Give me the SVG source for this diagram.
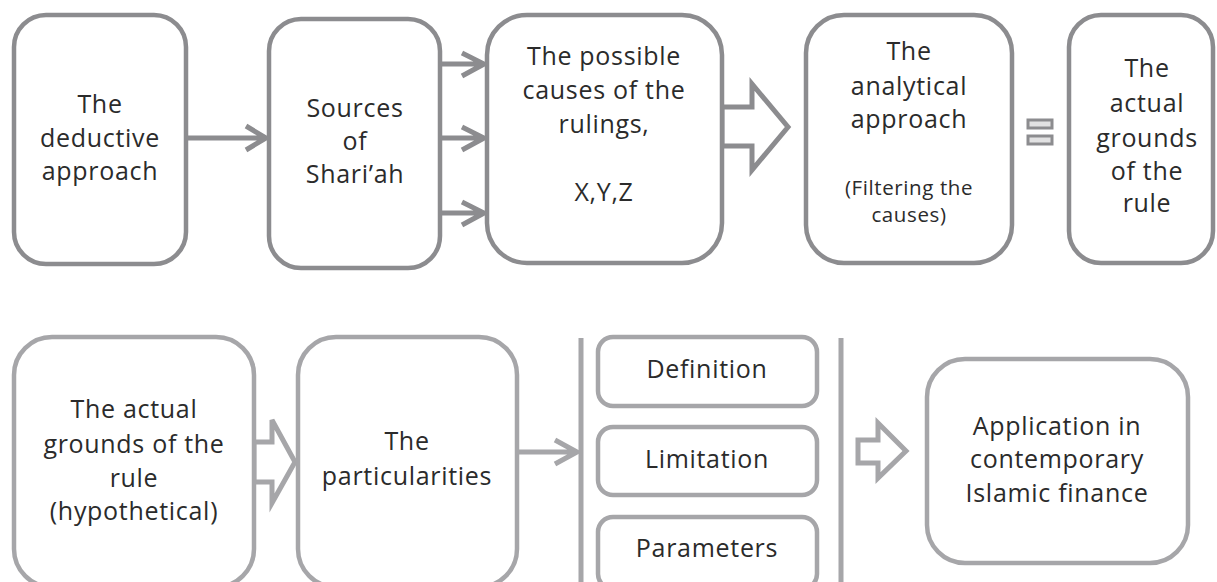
<svg xmlns="http://www.w3.org/2000/svg" width="1217" height="582" viewBox="0 0 1217 582">
<style>
.box{fill:#fff;stroke:#8c8c8f;stroke-width:4.5}
.boxl{fill:#fff;stroke:#a6a6a9;stroke-width:4.5}
.t{font-family:"Open Sans","Liberation Sans",sans-serif;font-size:25px;letter-spacing:0.7px;fill:#2b2b2b;text-anchor:middle}
.s{font-size:20.5px;letter-spacing:0.6px}
.ln{fill:none;stroke:#8c8c8f;stroke-width:5}
.lnl{fill:none;stroke:#a6a6a9;stroke-width:5}
.blk{fill:#fff;stroke:#8c8c8f;stroke-width:5;stroke-linejoin:miter}
.blkl{fill:#fff;stroke:#a6a6a9;stroke-width:5;stroke-linejoin:miter}
</style>
<rect width="1217" height="582" fill="#fff"/>
<g id="connectors">
<path class="ln" d="M186,138 H265 M246,126 L266,138 L246,150"/>
<path class="ln" d="M440,64 H484 M462,53 L484,64 L462,76"/>
<path class="ln" d="M440,138 H484 M462,127 L484,138 L462,150"/>
<path class="ln" d="M440,213 H484 M462,202 L484,213 L462,225"/>
<polygon class="blk" points="722,107 752,107 752,84 788,127 752,170 752,146 722,146"/>
<polygon class="blkl" points="254,442 272,442 272,420 295,462 272,503 272,482 254,482"/>
<path class="lnl" d="M517,452 H577 M555,440 L577,452 L555,464"/>
<polygon class="blkl" points="858,440 878,440 878,423 906,451 878,478 878,463 858,463"/>
<path class="lnl" d="M581,338 V582 M841,338 V582"/>
</g>
<g id="equals">
<rect x="1028" y="120" width="24" height="8" fill="#e2e2e3" stroke="#8c8c8f" stroke-width="3"/>
<rect x="1028" y="136" width="24" height="8" fill="#e2e2e3" stroke="#8c8c8f" stroke-width="3"/>
</g>
<g id="n1"><rect class="box" x="14" y="15" width="172" height="249" rx="32"/>
<text class="t" x="100" y="113">The</text><text class="t" x="100" y="147">deductive</text><text class="t" x="100" y="180">approach</text></g>
<g id="n2"><rect class="box" x="269" y="19" width="171" height="249" rx="32"/>
<text class="t" x="355" y="117">Sources</text><text class="t" x="355" y="150">of</text><text class="t" x="355" y="183">Shari’ah</text></g>
<g id="n3"><rect class="box" x="487" y="15" width="235" height="248" rx="40"/>
<text class="t" x="604" y="65">The possible</text><text class="t" x="604" y="99">causes of the</text><text class="t" x="604" y="133">rulings,</text><text class="t" x="604" y="201">X,Y,Z</text></g>
<g id="n4"><rect class="box" x="806" y="15" width="206" height="248" rx="38"/>
<text class="t" x="909" y="60">The</text><text class="t" x="909" y="95">analytical</text><text class="t" x="909" y="128">approach</text>
<text class="t s" x="909" y="195">(Filtering the</text><text class="t s" x="909" y="222">causes)</text></g>
<g id="n5"><rect class="box" x="1069" y="15" width="144" height="248" rx="32"/>
<text class="t" x="1147" y="77">The</text><text class="t" x="1147" y="112">actual</text><text class="t" x="1147" y="147">grounds</text><text class="t" x="1147" y="180">of the</text><text class="t" x="1147" y="212">rule</text></g>
<g id="n6"><rect class="boxl" x="14" y="337" width="240" height="250" rx="38"/>
<text class="t" x="134" y="418">The actual</text><text class="t" x="134" y="453">grounds of the</text><text class="t" x="134" y="487">rule</text><text class="t" x="134" y="520">(hypothetical)</text></g>
<g id="n7"><rect class="boxl" x="298" y="337" width="219" height="250" rx="38"/>
<text class="t" x="407" y="450">The</text><text class="t" x="407" y="485">particularities</text></g>
<g id="n8"><rect class="boxl" x="598" y="337" width="219" height="69" rx="15"/>
<text class="t" x="707" y="378">Definition</text></g>
<g id="n9"><rect class="boxl" x="598" y="427" width="219" height="68" rx="15"/>
<text class="t" x="707" y="468">Limitation</text></g>
<g id="n10"><rect class="boxl" x="598" y="517" width="219" height="72" rx="15"/>
<text class="t" x="707" y="557">Parameters</text></g>
<g id="n11"><rect class="boxl" x="927" y="359" width="261" height="204" rx="38"/>
<text class="t" x="1057" y="435">Application in</text><text class="t" x="1057" y="468">contemporary</text><text class="t" x="1057" y="502">Islamic finance</text></g>
</svg>
